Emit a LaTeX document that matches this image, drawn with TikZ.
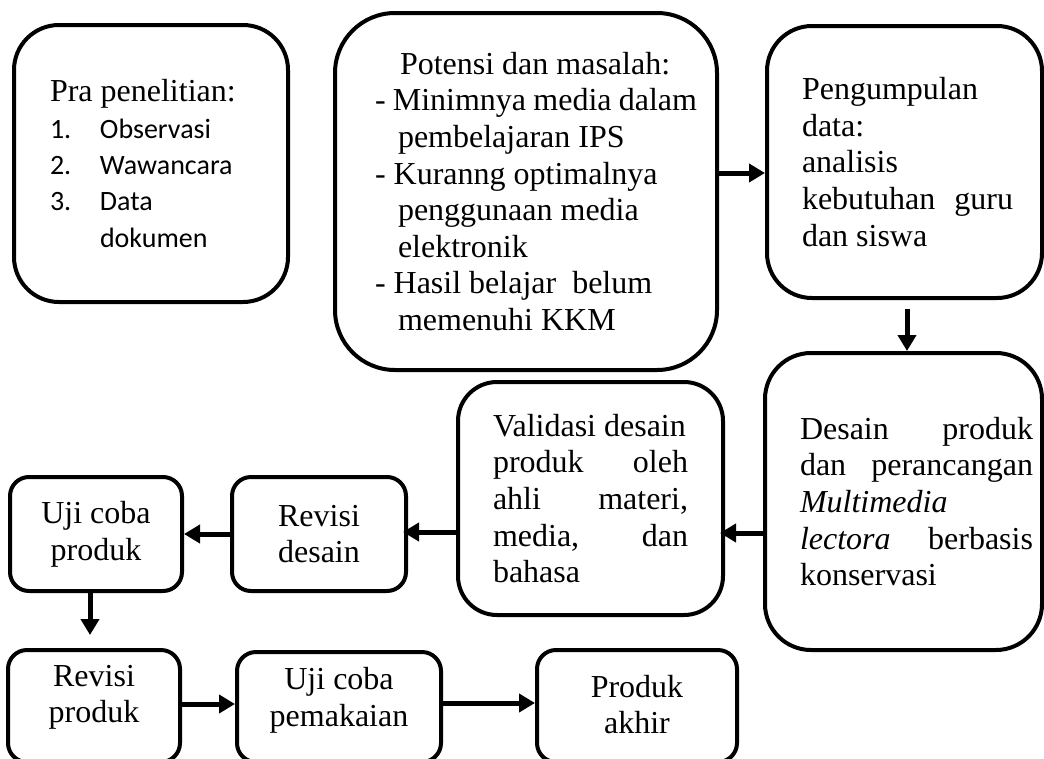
\documentclass[tikz,border=0pt]{standalone}
\usepackage{fontspec}
\setmainfont{Liberation Serif}
\newfontfamily\calibrifont{Carlito}
\usetikzlibrary{arrows.meta}

% text sizes: serif body text and the sans list
\newcommand\tnr{\fontsize{32pt}{36.6pt}\selectfont}
\newcommand\lst{\calibrifont\fontsize{28pt}{36.3pt}\selectfont}
% #1 left padding, #2 width of the text block, #3 text
\newcommand\boxtext[3]{\hspace*{#1pt}\parbox[c]{#2pt}{\tnr #3}}

\tikzset{
  box/.style={draw, line width=4pt, rounded corners=#1, inner sep=0pt, font=\tnr},
  arr/.style={line width=5pt, -{Triangle[length=16pt,width=18pt]}},
}

\begin{document}
\begin{tikzpicture}[x=1pt, y=-1pt]
\useasboundingbox (0,0) rectangle (1044,758);
\clip (0,0) rectangle (1044,758);

% upper row
\node[box=45pt, minimum width=274pt, minimum height=277pt] (pra) at (151,163.5)
  {\boxtext{0}{202}{\baselineskip=36.3pt
    Pra penelitian:\\
    {\lst\makebox[50pt][l]{1.}Observasi}\\
    {\lst\makebox[50pt][l]{2.}Wawancara}\\
    {\lst\makebox[50pt][l]{3.}Data}\\
    {\lst\hspace*{50pt}dokumen}}};

\node[box=60pt, minimum width=382pt, minimum height=357pt] (pot) at (526,191.5)
  {\boxtext{20}{322}{%
    \hspace*{25pt}Potensi dan masalah:\\
    - Minimnya media dalam\\
    \hspace*{23pt}pembelajaran IPS\\
    - Kuranng optimalnya\\
    \hspace*{23pt}penggunaan media\\
    \hspace*{23pt}elektronik\\
    - Hasil belajar\ \ belum\\
    \hspace*{23pt}memenuhi KKM}};

\node[box=45pt, minimum width=275pt, minimum height=272pt] (pgp) at (904.5,162)
  {\boxtext{6}{211}{%
    Pengumpulan\\
    data:\\
    analisis\\
    kebutuhan\hfill guru\\
    dan siswa}};

% middle row
\node[box=46pt, minimum width=277pt, minimum height=297pt] (des) at (903.5,501.5)
  {\boxtext{26}{233}{%
    Desain\hfill produk\\
    dan\hfill perancangan\\
    \textit{Multimedia}\\
    \textit{lectora}\hfill berbasis\\
    konservasi}};

\node[box=39pt, minimum width=265pt, minimum height=233pt] (val) at (590.5,498.5)
  {\boxtext{0}{195}{%
    Validasi desain\\
    produk\hfill oleh\\
    ahli\hfill materi,\\
    media,\hfill dan\\
    bahasa}};

\node[box=19pt, minimum width=174pt, minimum height=114pt] (rd) at (319,534)
  {\boxtext{0}{170}{\centering Revisi\\desain}};

\node[box=19pt, minimum width=172pt, minimum height=114pt] (ujp) at (96,534)
  {\boxtext{0}{168}{\centering Uji coba\\produk}};

% bottom row (boxes run past the lower edge)
\node[box=19pt, minimum width=172pt, minimum height=112pt] (rp) at (94,706)
  {\boxtext{0}{168}{\centering Revisi\\produk\par\vspace{17pt}}};

\node[box=19pt, minimum width=204pt, minimum height=110pt] (ucp) at (339,707)
  {\boxtext{0}{200}{\centering Uji coba\\pemakaian\par\vspace{14pt}}};

\node[box=19pt, minimum width=200pt, minimum height=112pt] (pa) at (637,706)
  {\boxtext{0}{196}{\centering Produk\\akhir\par\vspace{3pt}}};

% flow arrows
\draw[arr] ([yshift=18.5pt]pot.east) -- ([yshift=-11pt]pgp.west);
\draw[arr] ([xshift=2.5pt,yshift=-9pt]pgp.south) -- ([xshift=3.5pt]des.north);
\draw[arr] ([yshift=-31.5pt]des.west) -- ([xshift=-5pt,yshift=-34.5pt]val.east);
\draw[arr] ([yshift=-33.5pt]val.west) -- ([xshift=-5pt,yshift=2pt]rd.east);
\draw[arr] (rd.west) -- (ujp.east);
\draw[arr] ([xshift=-6pt]ujp.south) -- ([xshift=-4pt,yshift=13pt]rp.north);
\draw[arr] ([yshift=2pt]rp.east) -- ([yshift=3pt]ucp.west);
\draw[arr] ([yshift=4pt]ucp.east) -- ([yshift=3pt]pa.west);
\end{tikzpicture}
\end{document}
